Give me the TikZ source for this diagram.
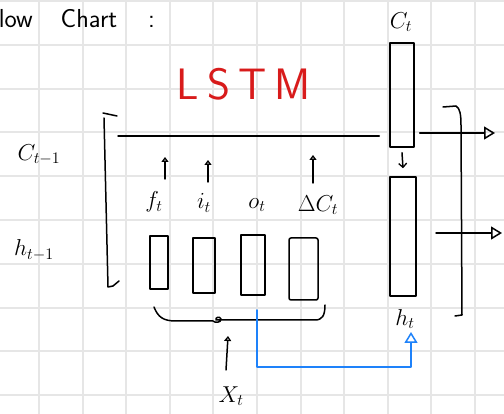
\RequirePackage{fix-cm}
\documentclass[tikz,border=0pt]{standalone}
\usepackage{fontspec}
\usetikzlibrary{arrows.meta}
\definecolor{gridc}{HTML}{E6E6E6}
\definecolor{lstmred}{HTML}{D81B1B}
\definecolor{bluec}{HTML}{1E82FA}
\begin{document}
\begin{tikzpicture}[x=1pt,y=-1pt, line width=1.5pt, line cap=round, line join=round,
  box/.style={draw, rectangle, inner sep=0pt},
  lbl/.style={inner sep=0pt, font=\fontsize{23}{26}\selectfont},
  openarr/.style={-{Triangle[open,length=11pt,width=13pt,line width=1.5pt]}},
  gatearr/.style={-{Triangle[open,length=5pt,width=7pt,line width=1.3pt]}},
  chevarr/.style={-{Straight Barb[length=4pt,width=8pt,line width=1.3pt]}}]
\useasboundingbox (0,0) rectangle (504,414);
\fill[white] (0,0) rectangle (504,414);
\foreach \i in {0,...,10} \draw[gridc,line width=2pt] ({39+43.6*\i},0) -- ({39+43.6*\i},414);
\foreach \j in {0,...,9} \draw[gridc,line width=2pt] (0,{1+43.8*\j}) -- (504,{1+43.8*\j});

% titles
\node[anchor=base west, inner sep=0pt, font=\sffamily\fontsize{26}{30}\selectfont] (title) at (-2,28) {low\hspace*{28pt}Chart\hspace*{31pt}:};
\node[anchor=base west, inner sep=0pt, text=lstmred, font=\sffamily\fontsize{44}{48}\selectfont] (lstm) at (176,100) {L\kern8pt S\kern8pt T\kern8pt M};

% labels
\node[lbl] (cprev) at (39,155) {$C_{t-1}$};
\node[lbl] (hprev) at (34,250) {$h_{t-1}$};
\node[lbl] (ft) at (154,202) {$f_t$};
\node[lbl] (it) at (204,203) {$i_t$};
\node[lbl] (ot) at (257,205) {$o_t$};
\node[lbl] (dct) at (318,205) {$\Delta C_t$};
\node[lbl] (ctl) at (401,22) {$C_t$};
\node[lbl] (htl) at (405,319) {$h_t$};
\node[lbl] (xt) at (231,396) {$X_t$};

% gate boxes
\node[box, minimum width=18pt, minimum height=53pt] (b1) at (159,262.5) {};
\node[box, minimum width=22pt, minimum height=55pt] (b2) at (204,265.5) {};
\node[box, minimum width=24pt, minimum height=60pt] (b3) at (253,265) {};
\node[box, minimum width=29pt, minimum height=62pt, rounded corners=2pt] (b4) at (303.5,269) {};
\node[box, minimum width=24pt, minimum height=104pt] (cbox) at (402,95) {};
\node[box, minimum width=26pt, minimum height=119pt] (hbox) at (403,236.5) {};

% gate arrows
\draw[gatearr] (165,179) coordinate (g1s) -- (165,157);
\draw[gatearr] (208,182) coordinate (g2s) -- (208,160);
\draw[gatearr] (313,183) coordinate (g3s) -- (313,155);

% left bracket
\draw (117,116) -- (103,113);
\draw (104,118) -- (108,287) -- (113,286) -- (119,281);
% right bracket
\draw (443,107) -- (456,106) .. controls (460,108) and (461,115) .. (461,125) -- (462,315) -- (455,316);

% cell line
\coordinate (cl) at (118,136);
\draw (cl) -- ([xshift=-10pt]cbox.west |- cl);

% c -> h
\draw[chevarr] ([yshift=-5pt]cbox.south) -- ([yshift=8pt]hbox.north);

% outputs
\coordinate (co) at (495,133);
\coordinate (ho) at (502,233);
\draw[openarr] ([xshift=5pt]cbox.east |- co) -- (co);
\draw[openarr] (436,233) -- (ho);

% brace
\draw (154,307) .. controls (158,317) and (163,321) .. (176,321) -- (213,321)
      .. controls (215,323) and (221,323) .. (221,319) .. controls (220,316) and (215,317) .. (216,320)
      -- (315,320) .. controls (322,320) and (325,316) .. (325,305);

% x input
\draw[gatearr] (226,370) -- (228,336);

% blue connector
\coordinate (bs) at (257,310);
\draw[bluec, openarr] (bs) -- (257,367) -| (411,332);
\end{tikzpicture}
\end{document}
